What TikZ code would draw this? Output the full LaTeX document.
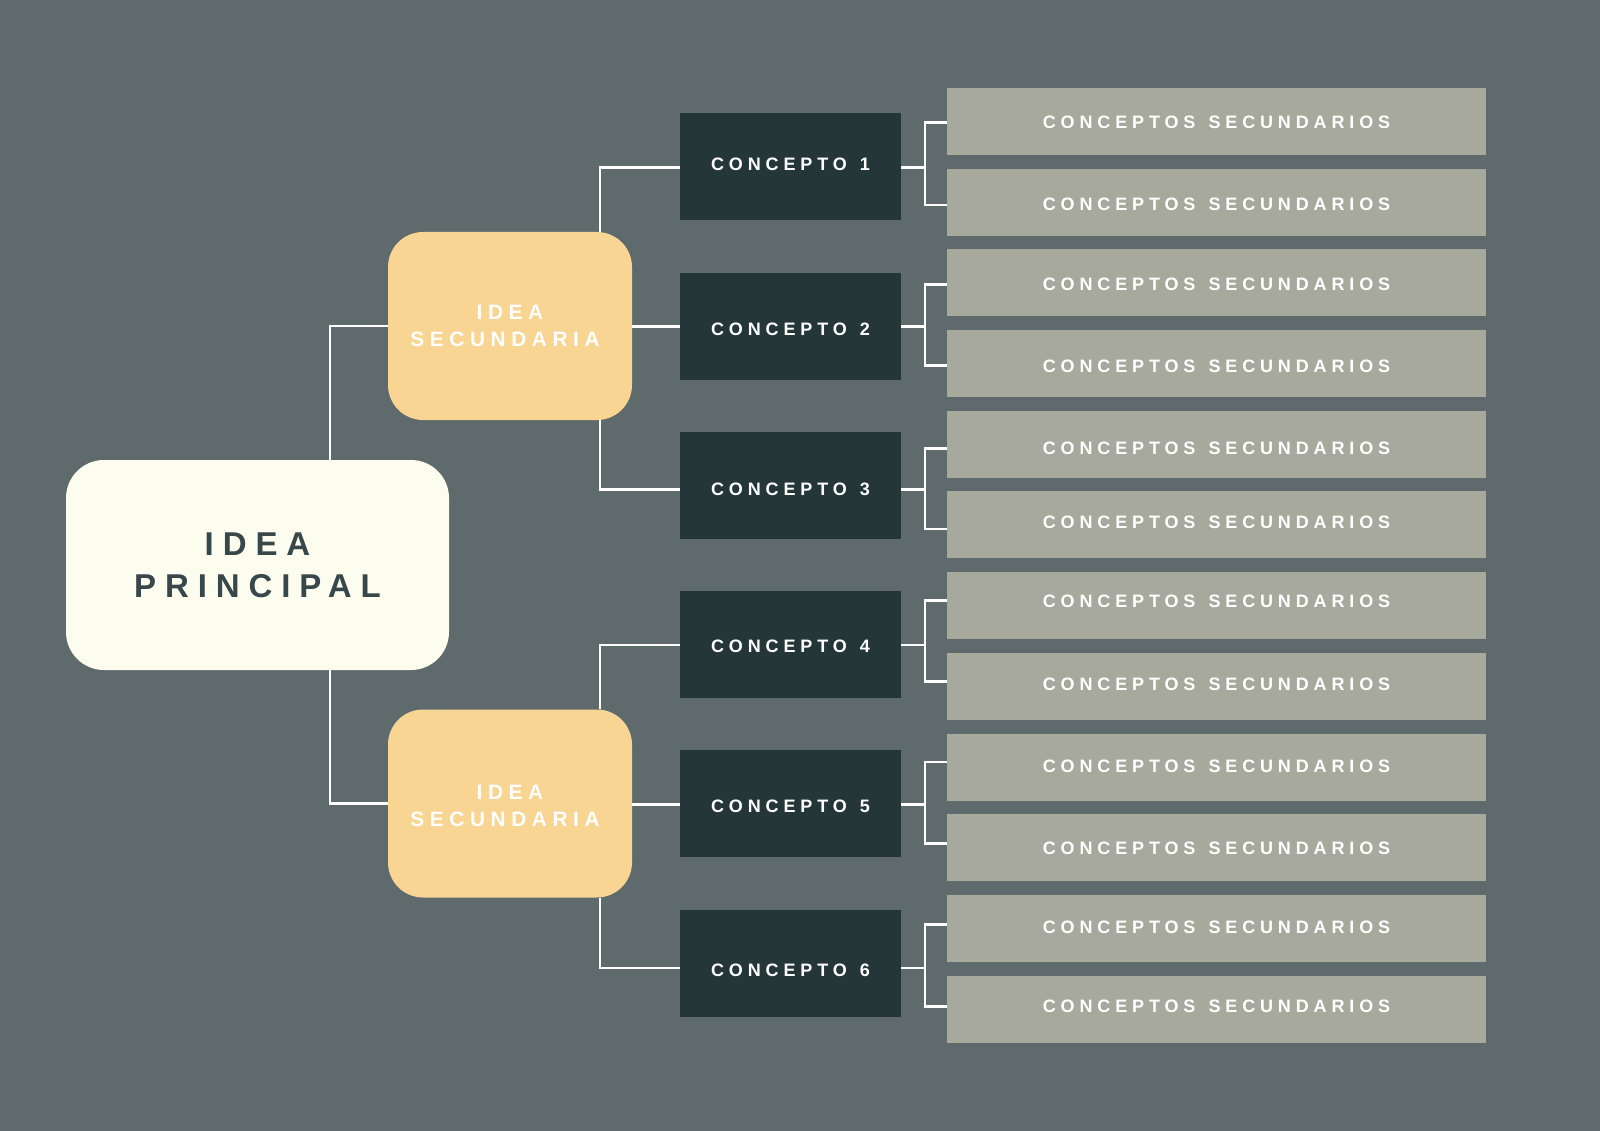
\documentclass[tikz,border=0pt]{standalone}
\usepackage{fontspec}
\setmainfont{Liberation Sans}
\newfontfamily\espaciada[LetterSpace=27]{Liberation Sans}
\usetikzlibrary{calc}
\definecolor{fondo}{HTML}{5E6A6B}
\definecolor{crema}{HTML}{FDFDEF}
\definecolor{arena}{HTML}{F9D593}
\definecolor{pizarra}{HTML}{253639}
\definecolor{gris}{HTML}{A6A99B}
\definecolor{tinta}{HTML}{37474A}
\newcommand{\esp}{\hspace{0.18em}}
\newcommand{\etiqueta}[2]{\raisebox{-#1pt}[\height][\depth]{#2}}
\tikzset{principal/.style={fill=crema,rounded corners=38pt,minimum width=383pt,minimum height=210pt,
	align=center,text=tinta,font=\espaciada\bfseries\fontsize{33}{42}\selectfont}}
\tikzset{secundaria/.style={fill=arena,rounded corners=35pt,minimum width=244pt,minimum height=188pt,
	align=center,text=white,font=\espaciada\bfseries\fontsize{20.8}{26.5}\selectfont}}
\tikzset{concepto/.style={fill=#1,minimum width=221pt,minimum height=107pt,inner sep=0pt,
	text=white,font=\espaciada\bfseries\fontsize{18}{22}\selectfont},concepto/.default=pizarra}
\tikzset{subconcepto/.style={fill=#1,minimum width=539pt,minimum height=67pt,inner sep=0pt,
	text=white,font=\espaciada\bfseries\fontsize{18}{22}\selectfont},subconcepto/.default=gris}
\tikzset{enlace/.style={draw=#1,line width=2.6pt},enlace/.default=white}

\begin{document}
\begin{tikzpicture}[x=1pt,y=-1pt]

	% El fondo
	\fill [fondo] (0,0) rectangle (1600,1131);
	\useasboundingbox (0,0) rectangle (1600,1131);

	% La idea principal y las ideas secundarias
	\node [principal] (idea) at (257.5,565) {IDEA\\PRINCIPAL};
	\node [secundaria] (sec1) at (510,326) {IDEA\\SECUNDARIA\kern10pt};
	\node [secundaria] (sec2) at (510,803.5) {\etiqueta{2.5}{IDEA}\\\etiqueta{2.5}{SECUNDARIA}\kern10pt};

	% Los conceptos (desplazamiento del texto / del enlace)
	\foreach \i/\dt/\dc in {1/-2.5/0.4, 2/3.1/0.5, 3/4.2/4, 4/1.8/0.3, 5/2/0.5, 6/7.2/5} {
		\node [concepto] (con\i) at (790.5,{167+159.2*(\i-1)}) {\etiqueta{\dt}{CONCEPTO \esp\i}};
		\coordinate (cw\i) at ([yshift=-\dc pt]con\i.west);
		\coordinate (ce\i) at ([yshift=-\dc pt]con\i.east);
	}

	% Los conceptos secundarios
	\foreach \j/\dt in {1/1, 2/2, 3/2, 4/3, 5/4, 6/-3, 7/-4, 8/-2, 9/-1, 10/1, 11/-1, 12/-3}
		\node [subconcepto] (sub\j) at (1216.5,{121.4+80.7*(\j-1)})
			{\etiqueta{\dt}{CONCEPTOS \esp SECUNDARIOS}};

	% Enlaces de la idea principal
	\draw [enlace] ([xshift=72.5pt]idea.north) |- (sec1.west);
	\draw [enlace] ([xshift=72.5pt]idea.south) |- (sec2.west);

	% Enlaces de las ideas secundarias
	\draw [enlace] ([xshift=90pt]sec1.north) |- (cw1);
	\draw [enlace] (cw2) -- (cw2 -| sec1.east);
	\draw [enlace] ([xshift=90pt]sec1.south) |- (cw3);
	\draw [enlace] ([xshift=90pt]sec2.north) |- (cw4);
	\draw [enlace] (cw5) -- (cw5 -| sec2.east);
	\draw [enlace] ([xshift=90pt]sec2.south) |- (cw6);

	% Llaves hacia los conceptos secundarios
	\foreach \i/\da/\db in {1/1.3/2.9, 2/2/2, 3/4/4, 4/-5/-4.6, 5/-5/-4, 6/-4/-2.4} {
		\pgfmathtruncatemacro{\a}{2*\i-1}
		\pgfmathtruncatemacro{\b}{2*\i}
		\coordinate (lla\a) at ([yshift=-\da pt]sub\a.west);
		\coordinate (lla\b) at ([yshift=-\db pt]sub\b.west);
		\coordinate (eje\i) at ($(lla\a) + (-22,0)$);
		\draw [enlace] (ce\i) -- (eje\i |- ce\i);
		\draw [enlace] (lla\a) -- (eje\i) |- (lla\b);
	}

\end{tikzpicture}
\end{document}
